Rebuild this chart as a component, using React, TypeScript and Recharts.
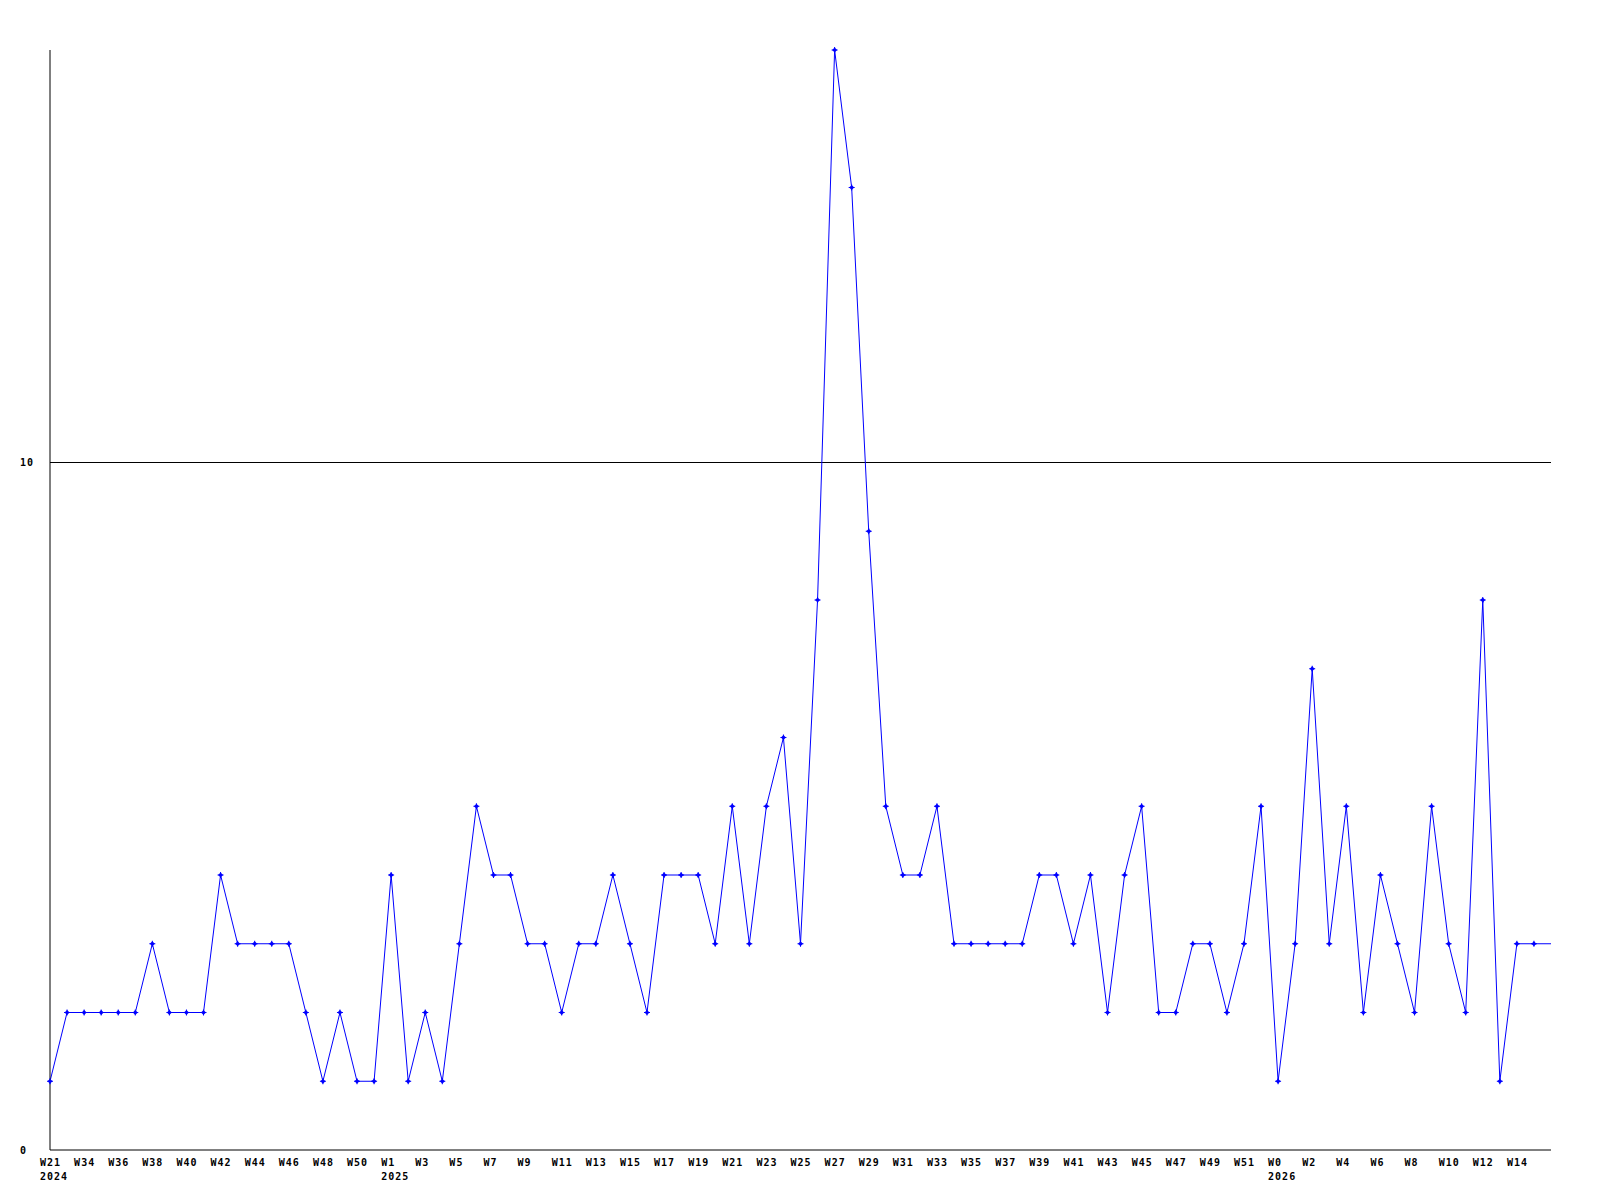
import React from "react";
import { LineChart, Line, XAxis, YAxis, CartesianGrid } from "recharts";

const weeks: string[] = [
  "W21", "W33", "W34", "W35", "W36", "W37", "W38", "W39", "W40", "W41",
  "W42", "W43", "W44", "W45", "W46", "W47", "W48", "W49", "W50", "W51",
  "W1", "W2", "W3", "W4", "W5", "W6", "W7", "W8", "W9", "W10",
  "W11", "W12", "W13", "W14", "W15", "W16", "W17", "W18", "W19", "W20",
  "W21", "W22", "W23", "W24", "W25", "W26", "W27", "W28", "W29", "W30",
  "W31", "W32", "W33", "W34", "W35", "W36", "W37", "W38", "W39", "W40",
  "W41", "W42", "W43", "W44", "W45", "W46", "W47", "W48", "W49", "W50",
  "W51", "W52", "W0", "W1", "W2", "W3", "W4", "W5", "W6", "W7",
  "W8", "W9", "W10", "W11", "W12", "W13", "W14", "W15", "W16",
];

const values: number[] = [
  1, 2, 2, 2, 2, 2, 3, 2, 2, 2,
  4, 3, 3, 3, 3, 2, 1, 2, 1, 1,
  4, 1, 2, 1, 3, 5, 4, 4, 3, 3,
  2, 3, 3, 4, 3, 2, 4, 4, 4, 3,
  5, 3, 5, 6, 3, 8, 16, 14, 9, 5,
  4, 4, 5, 3, 3, 3, 3, 3, 4, 4,
  3, 4, 2, 4, 5, 2, 2, 3, 3, 2,
  3, 5, 1, 3, 7, 3, 5, 2, 4, 3,
  2, 5, 3, 2, 8, 1, 3, 3, 3,
];

const yearStartIndex: number[] = [0, 20, 72];
const yearNames: string[] = ["2024", "2025", "2026"];

const yTicks: number[] = [0, 10];

const data = weeks.map((w, i) => ({ i, week: w, value: values[i] }));
const xTicks = data.filter((d) => d.i % 2 === 0 && d.i < data.length - 1).map((d) => d.i);

const FONT = "'DejaVu Sans Mono', monospace";

const XTick = (props: any) => {
  const { x, payload } = props;
  const idx = payload.value as number;
  const yi = yearStartIndex.indexOf(idx);
  return (
    <g>
      <text x={x - 10} y={1166} textAnchor="start" fontFamily={FONT} fontWeight="bold" fontSize={10} letterSpacing={1} fill="#000">
        {weeks[idx]}
      </text>
      {yi >= 0 && (
        <text x={x - 10} y={1180} textAnchor="start" fontFamily={FONT} fontWeight="bold" fontSize={10} letterSpacing={1} fill="#000">
          {yearNames[yi]}
        </text>
      )}
    </g>
  );
};

const YTick = (props: any) => {
  const { y, payload } = props;
  return (
    <text x={20} y={y + 3.5} textAnchor="start" fontFamily={FONT} fontWeight="bold" fontSize={10} letterSpacing={1} fill="#000">
      {payload.value}
    </text>
  );
};

const Marker = (props: any) => {
  const { cx, cy, index } = props;
  if (index === data.length - 1 || cx == null || cy == null) return <g key={`m${index}`} />;
  return (
    <g key={`m${index}`}>
      <path d={`M${cx - 2.5},${cy} L${cx},${cy - 2.5} L${cx + 2.5},${cy} L${cx},${cy + 2.5} Z`} fill="#0000ff" stroke="none" />
      <line x1={cx - 3} y1={cy} x2={cx + 3} y2={cy} stroke="#0000ff" strokeWidth={1} />
      <line x1={cx} y1={cy - 3} x2={cx} y2={cy + 3} stroke="#0000ff" strokeWidth={1} />
    </g>
  );
};

export default function App() {
  return (
    <div style={{ position: "absolute", left: 0, top: 0, width: 1600, height: 1200, background: "#fff" }}>
      <LineChart width={1600} height={1200} data={data} margin={{ top: 50, right: 49, bottom: 0, left: 0 }}>
        <CartesianGrid vertical={false} stroke="#000" strokeWidth={1} horizontalValues={[10]} />
        <XAxis
          type="number"
          dataKey="i"
          domain={[0, data.length - 1]}
          ticks={xTicks}
          interval={0}
          tick={<XTick />}
          tickLine={false}
          axisLine={{ stroke: "#000", strokeWidth: 1 }}
          height={50}
          allowDecimals={false}
        />
        <YAxis
          type="number"
          domain={[0, 16]}
          ticks={yTicks}
          tick={<YTick />}
          tickLine={false}
          axisLine={{ stroke: "#000", strokeWidth: 1 }}
          width={50}
        />
        <Line
          type="linear"
          dataKey="value"
          stroke="#0000ff"
          strokeWidth={1}
          dot={<Marker />}
          activeDot={false}
          isAnimationActive={false}
        />
      </LineChart>
    </div>
  );
}
